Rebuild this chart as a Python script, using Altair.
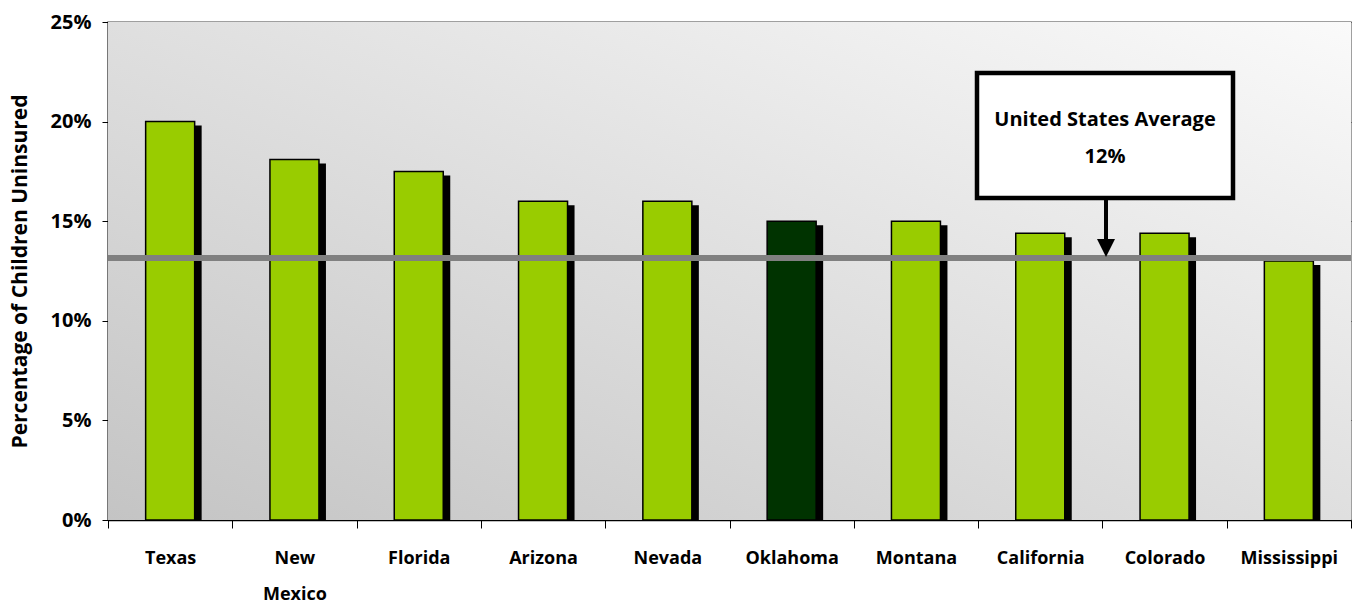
import altair as alt
import pandas as pd

states = ["Texas", "New Mexico", "Florida", "Arizona", "Nevada",
          "Oklahoma", "Montana", "California", "Colorado", "Mississippi"]
values = [0.200, 0.181, 0.175, 0.160, 0.160, 0.150, 0.150, 0.144, 0.144, 0.130]
highlight = ["Oklahoma"]
us_avg_line = 0.1315
callout_lines = ["United States Average", "12%"]
y_ticks = [0, 0.05, 0.10, 0.15, 0.20, 0.25]

df = pd.DataFrame({"state": states, "value": values})
df["hl"] = df["state"].isin(highlight)

W, H = 1243, 498
FONT = "Open Sans"

x = alt.X("state:N", sort=states, title=None,
          scale=alt.Scale(paddingInner=0, paddingOuter=0),
          axis=alt.Axis(labelAngle=0, labelFont=FONT, labelFontWeight="bold",
                        labelFontSize=18, labelColor="#000", labelPadding=21,
                        labelLineHeight=36, labelBaseline="top",
                        labelExpr="split(datum.label, ' ')",
                        tickBand="extent", tickSize=8, tickColor="#000",
                        domainColor="#000", domainWidth=1.5, grid=False))
y = alt.Y("value:Q", title="Percentage of Children Uninsured",
          scale=alt.Scale(domain=[0, 0.25], nice=False),
          axis=alt.Axis(values=y_ticks, format=".0%", labelFont=FONT,
                        labelFontWeight="bold", labelFontSize=20, labelColor="#000",
                        labelPadding=11, tickSize=6, tickColor="#000",
                        domainColor="#000", domainWidth=1.5,
                        grid=True, gridColor="#222", gridWidth=1,
                        titleFont=FONT, titleFontSize=21, titleFontWeight="bold",
                        titleColor="#000", titlePadding=20))

bg = alt.Chart(pd.DataFrame({"a": [0]})).mark_rect(
    color=alt.Gradient(gradient="linear", x1=0, y1=1, x2=1, y2=0,
                       stops=[alt.GradientStop(color="#c4c4c4", offset=0),
                              alt.GradientStop(color="#fafafa", offset=1)])
).encode(x=alt.value(0), x2=alt.value(W), y=alt.value(0), y2=alt.value(H))

base = alt.Chart(df)
shadow = base.mark_bar(size=49, color="#000", xOffset=7, yOffset=4, clip=True).encode(x=x, y=y)
bars = base.mark_bar(size=49, stroke="#000", strokeWidth=1.5).encode(
    x=x, y=y,
    color=alt.Color("hl:N", scale=alt.Scale(domain=[False, True], range=["#99cc00", "#003300"]),
                    legend=None))

avg_df = pd.DataFrame({"avg": [us_avg_line]})
avg_rule = alt.Chart(avg_df).mark_rule(color="#808080", strokeWidth=6).encode(
    y=alt.Y("avg:Q", scale=alt.Scale(domain=[0, 0.25], nice=False)))

box = alt.Chart(pd.DataFrame({"a": [0]})).mark_rect(
    fill="white", stroke="#000", strokeWidth=4.5
).encode(x=alt.value(869), x2=alt.value(1125), y=alt.value(51), y2=alt.value(176))

txt = alt.Chart(pd.DataFrame({"t": [callout_lines]})).mark_text(
    font=FONT, fontWeight="bold", fontSize=20, lineHeight=37, color="#000",
    align="center", baseline="middle"
).encode(x=alt.value(997), y=alt.value(98), text="t")

arrow_line = alt.Chart(pd.DataFrame({"a": [0]})).mark_rule(
    color="#000", strokeWidth=4).encode(x=alt.value(998), y=alt.value(178), y2=alt.value(222))

arrow_head = alt.Chart(avg_df).mark_point(
    shape="M-1,-1L1,-1L0,1Z", size=324, filled=True, color="#000", opacity=1, yOffset=-10
).encode(x=alt.value(998), y=alt.Y("avg:Q", scale=alt.Scale(domain=[0, 0.25], nice=False)))

chart = alt.layer(bg, shadow, bars, avg_rule, box, txt, arrow_line, arrow_head).resolve_scale(
    color="independent"
).properties(
    width=W, height=H,
    autosize=alt.AutoSizeParams(type="none"),
    padding={"left": 108, "top": 22, "right": 3, "bottom": 85},
    background="white"
).configure_view(stroke="#808080", strokeWidth=1.5)

chart.save("out.html", embed_options={"renderer": "svg", "actions": False})
